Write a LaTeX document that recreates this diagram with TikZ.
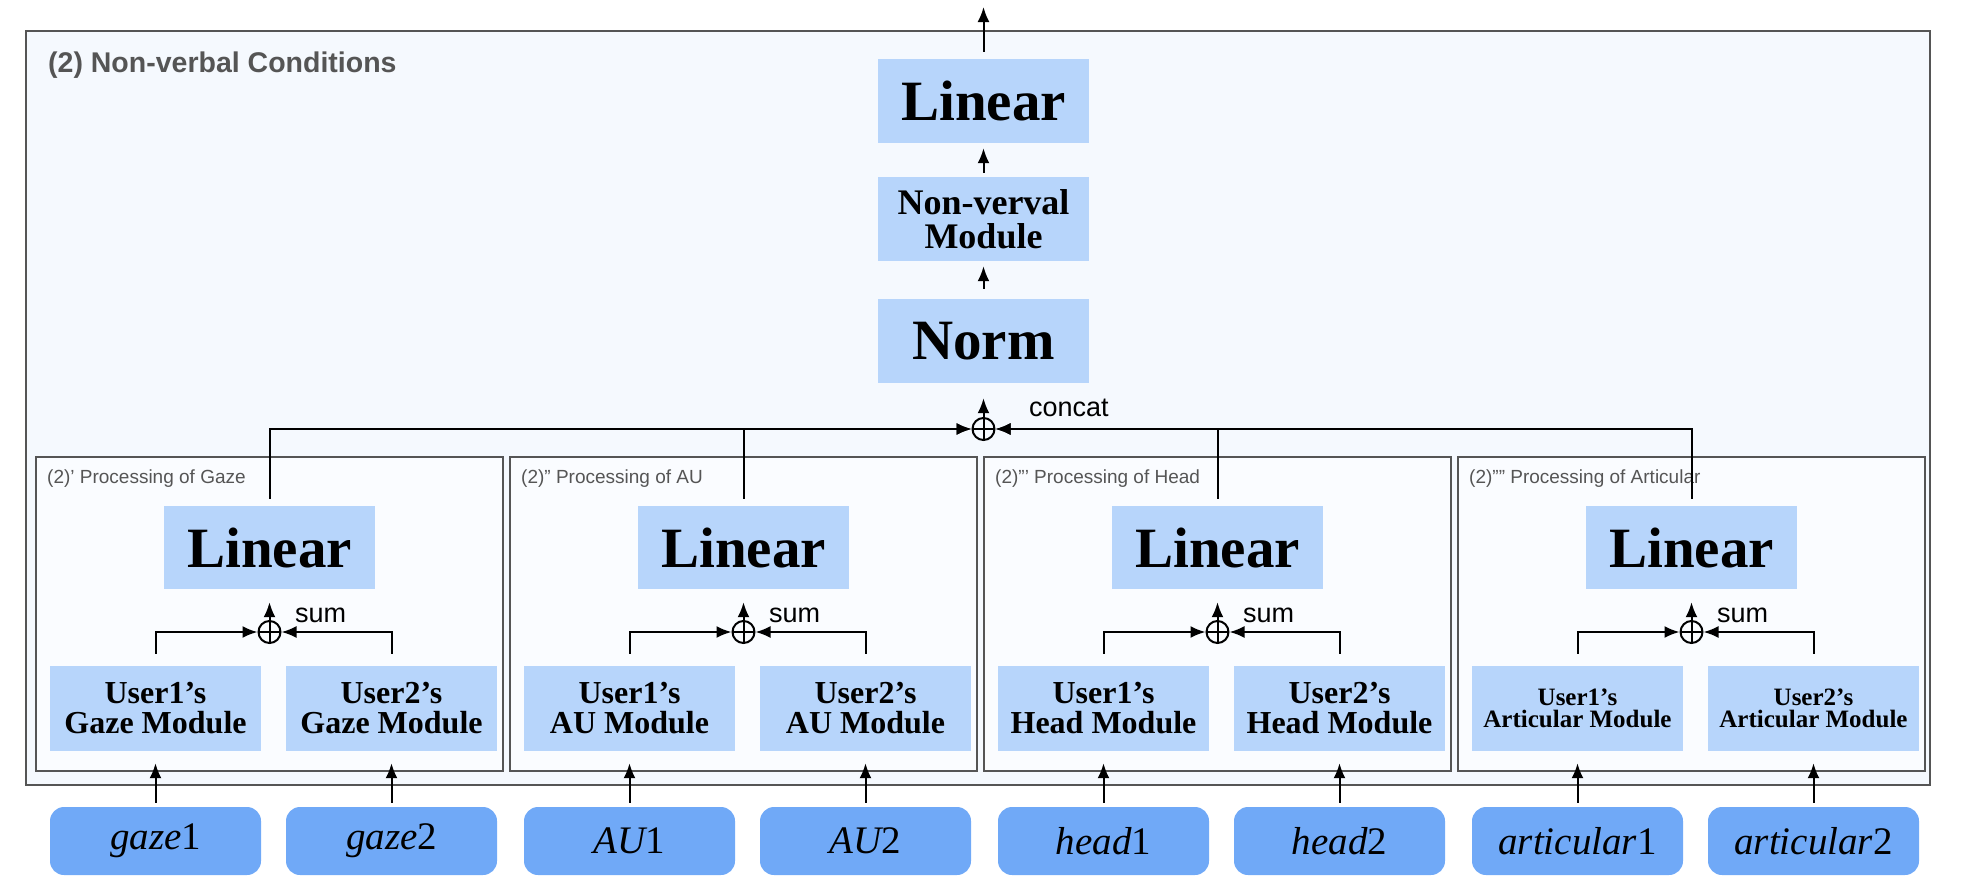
\documentclass[tikz,border=0pt]{standalone}
\usepackage{fontspec}
\setmainfont{Liberation Serif}
\setsansfont{Liberation Sans}
\usetikzlibrary{arrows.meta}
\definecolor{modblue}{HTML}{B7D5FB}
\definecolor{inblue}{HTML}{70A9F7}
\definecolor{panelbg}{HTML}{F5F9FE}
\definecolor{groupbg}{HTML}{FAFCFF}
\definecolor{framegray}{HTML}{555555}

\begin{document}
\begin{tikzpicture}[
  x=1pt, y=-1pt,
  module/.style={fill=modblue, minimum width=211pt, minimum height=84pt,
               inner sep=0pt, align=center},
  bigmod/.style={module, font=\fontsize{57}{60}\selectfont\bfseries},
  usermod/.style={module, minimum height=85pt},
  inbox/.style={fill=inblue, rounded corners=14pt, minimum width=211pt,
               minimum height=68pt, inner sep=0pt, font=\fontsize{39}{42}\selectfont},
  group/.style={draw=framegray, line width=2pt, fill=groupbg,
               minimum width=467pt, minimum height=314pt, inner sep=0pt},
  grouplabel/.style={anchor=west, inner sep=0pt, text=framegray,
               font=\sffamily\fontsize{19}{22}\selectfont},
  oplus/.style={circle, draw, line width=2pt, minimum size=22pt, inner sep=0pt,
               path picture={\draw[line width=2pt]
                 (path picture bounding box.north) -- (path picture bounding box.south)
                 (path picture bounding box.west) -- (path picture bounding box.east);}},
  oplabel/.style={anchor=west, inner sep=0pt, font=\sffamily\fontsize{27}{30}\selectfont},
  edge/.style={line width=2pt, -{Latex[length=15pt,width=12pt]}},
]
\useasboundingbox (0,0) rectangle (1962,894);

% outer panel and its title
\node[draw=framegray, line width=2pt, fill=panelbg, minimum width=1904pt,
      minimum height=754pt, inner sep=0pt] (panel) at (978,408) {};
\node[anchor=west, inner sep=0pt, text=framegray,
      font=\sffamily\bfseries\fontsize{28.5}{32}\selectfont] (title) at (48,65)
  {(2) Non-verbal Conditions};

% head of the branch
\node[bigmod] (lin) at (983.5,101) {Linear};
\node[module, font=\fontsize{36}{34}\selectfont\bfseries] (nvm) at (983.5,219)
  {Non-verval\\Module};
\node[bigmod] (norm) at (983.5,341) {Norm};
\node[oplus] (cat) at (983.5,429) {};
\node[oplabel] (catlbl) at (1029,408) {concat};
\coordinate (out) at (983.5,7);

\draw[edge, shorten <=10pt, shorten >=5pt] (norm) -- (nvm);
\draw[edge, shorten <=4pt, shorten >=5pt] (nvm) -- (lin);
\draw[edge, shorten <=7pt] (lin) -- (out);
\draw[edge, shorten >=15pt] (cat) -- (norm);

% one processing block per modality
\foreach \i/\lx/\tag/\what/\var/\fs/\fl in {
    0/36/’/Gaze/gaze/32/30,
    1/510/”/AU/AU/32/30,
    2/984/”’/Head/head/32/30,
    3/1458/””/Articular/articular/25/22} {
  \node[group] (grp\i) at ({\lx+233.5},614) {};
  \node[grouplabel] (tag\i) at ({\lx+11},479) {(2)\tag\ Processing of \what};
  \node[bigmod, minimum height=83pt] (lin\i) at ({\lx+233.5},547.5) {Linear};
  \node[oplus] (sum\i) at ({\lx+233.5},632) {};
  \node[oplabel] (sumlbl\i) at ({\lx+259},615) {sum};
  \node[usermod, font=\fontsize{\fs}{\fl}\selectfont\bfseries] (ua\i)
    at ({\lx+119.5},708.5) {User1’s\\\what\ Module};
  \node[usermod, font=\fontsize{\fs}{\fl}\selectfont\bfseries] (ub\i)
    at ({\lx+355.5},708.5) {User2’s\\\what\ Module};
  \node[inbox] (ina\i) at ({\lx+119.5},841) {{\itshape\var}1};
  \node[inbox] (inb\i) at ({\lx+355.5},841) {{\itshape\var}2};

  \draw[edge, shorten <=4pt, shorten >=12pt] (ina\i) -- (ua\i);
  \draw[edge, shorten <=4pt, shorten >=12pt] (inb\i) -- (ub\i);
  \draw[edge, shorten <=12pt] (ua\i) |- (sum\i);
  \draw[edge, shorten <=12pt] (ub\i) |- (sum\i);
  \draw[edge, shorten >=13pt] (sum\i) -- (lin\i);
  \draw[edge, shorten <=7pt] (lin\i) |- (cat);
}

\end{tikzpicture}
\end{document}
